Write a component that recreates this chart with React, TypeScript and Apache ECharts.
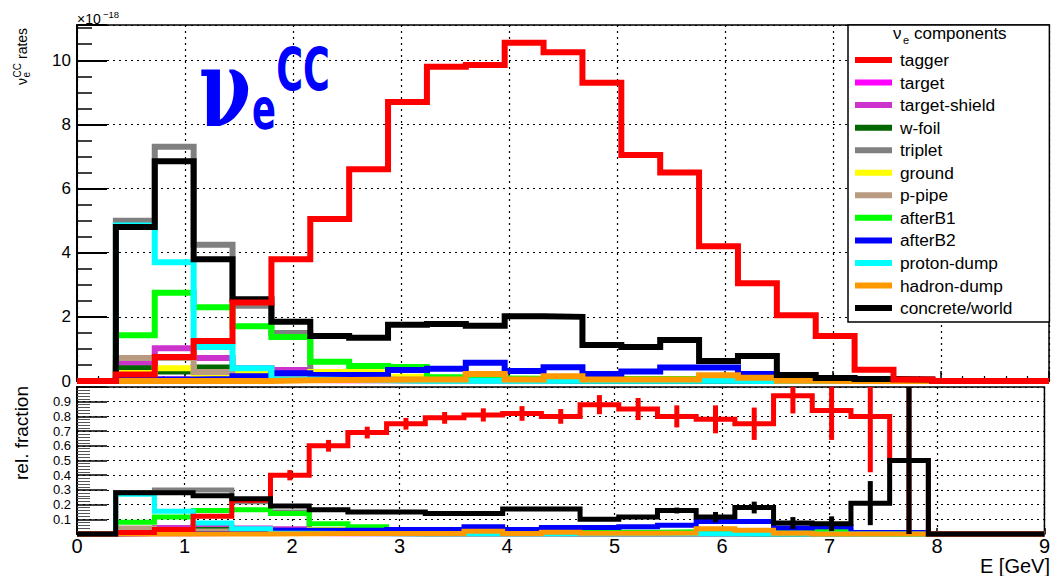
import React, { useEffect, useRef } from 'react';
import * as echarts from 'echarts';

const FONT = '"Liberation Sans", Arial, Helvetica, sans-serif';

// 25 bins of 0.36 GeV from 0 to 9 GeV
const binEdges = [0, 0.36, 0.72, 1.08, 1.44, 1.8, 2.16, 2.52, 2.88, 3.24, 3.6, 3.96, 4.32, 4.68, 5.04, 5.4, 5.76, 6.12, 6.48, 6.84, 7.2, 7.56, 7.92, 8.28, 8.64, 9];

// ---- upper panel: nu_e CC rates (x 1e-18) ----
const rateTagger = [0, 0.2, 0.75, 1.25, 2.45, 3.8, 5.05, 6.6, 8.7, 9.8, 9.85, 10.55, 10.25, 9.3, 7.05, 6.5, 4.2, 3.05, 2.05, 1.4, 0.35, 0.05, 0, 0, 0];
const rateTarget = [0, 0.05, 0.05, 0.05, 0.04, 0.03, 0.02, 0.02, 0.02, 0.02, 0.02, 0.02, 0.02, 0.02, 0.02, 0.02, 0.01, 0.01, 0, 0, 0, 0, 0, 0, 0];
const rateTargetShield = [0, 0.57, 1.02, 0.72, 0.4, 0.34, 0.1, 0.06, 0.04, 0.03, 0.03, 0.03, 0.02, 0.02, 0.02, 0.02, 0.01, 0.01, 0, 0, 0, 0, 0, 0, 0];
const rateWFoil = [0, 0.4, 0.3, 0.42, 0.1, 0.06, 0.04, 0.03, 0.02, 0.02, 0.02, 0.02, 0.01, 0.01, 0.01, 0.01, 0.01, 0, 0, 0, 0, 0, 0, 0, 0];
const rateTriplet = [0, 5.0, 7.3, 4.25, 2.35, 1.5, 0.04, 0.03, 0.02, 0.02, 0.02, 0.02, 0.02, 0.02, 0.02, 0.02, 0.02, 0.02, 0.01, 0.02, 0, 0, 0, 0, 0];
const rateGround = [0, 0.25, 0.4, 0.2, 0.28, 0.2, 0.28, 0.27, 0.13, 0.05, 0.05, 0.05, 0.08, 0.05, 0.04, 0.04, 0.04, 0.04, 0.02, 0.01, 0, 0, 0, 0, 0];
const ratePPipe = [0, 0.72, 0.72, 0.28, 0.08, 0.06, 0.05, 0.05, 0.04, 0.04, 0.03, 0.03, 0.03, 0.03, 0.03, 0.03, 0.02, 0.02, 0.01, 0.01, 0, 0, 0, 0, 0];
const rateAfterB1 = [0, 1.43, 2.75, 2.3, 1.71, 1.37, 0.6, 0.47, 0.44, 0.12, 0.08, 0.07, 0.07, 0.06, 0.06, 0.06, 0.06, 0.06, 0.02, 0.03, 0.01, 0, 0, 0, 0];
const rateAfterB2 = [0, 0.05, 0.05, 0.06, 0.15, 0.24, 0.19, 0.19, 0.34, 0.38, 0.57, 0.31, 0.43, 0.22, 0.3, 0.42, 0.42, 0.22, 0.03, 0.01, 0, 0, 0, 0, 0];
const rateProtonDump = [0, 4.85, 3.7, 1.06, 0.4, 0.05, 0.03, 0.02, 0.01, 0.01, 0.01, 0.01, 0.01, 0.01, 0.01, 0.01, 0.01, 0, 0, 0, 0, 0, 0, 0, 0];
const rateHadronDump = [0, 0, 0, 0, 0, 0.02, 0.03, 0.04, 0.05, 0.05, 0.22, 0.05, 0.15, 0.05, 0.05, 0.05, 0.18, 0.1, 0.01, 0, 0, 0, 0, 0, 0];
const rateConcrete = [0, 4.8, 6.85, 3.8, 2.55, 1.85, 1.4, 1.35, 1.75, 1.78, 1.72, 2.02, 2.0, 1.12, 1.06, 1.28, 0.62, 0.78, 0.19, 0.09, 0.06, 0.05, 0, 0, 0];

// ---- lower panel: relative fraction ----
const fracTagger = [0, 0.01, 0.03, 0.12, 0.23, 0.4, 0.6, 0.69, 0.75, 0.79, 0.81, 0.82, 0.8, 0.88, 0.85, 0.8, 0.78, 0.75, 0.94, 0.84, 0.8, 0.5, 0, 0, 0];
const errTagger = [0, 0, 0, 0.01, 0.02, 0.035, 0.04, 0.04, 0.04, 0.04, 0.045, 0.05, 0.05, 0.065, 0.075, 0.075, 0.095, 0.11, 0.12, 0.2, 0.38, 0.5, 0, 0, 0];
const fracTarget = [0, 0.002, 0.002, 0.004, 0.005, 0.003, 0.002, 0.002, 0.002, 0.002, 0.002, 0.002, 0.002, 0.002, 0.002, 0.002, 0.002, 0.002, 0, 0, 0, 0, 0, 0, 0];
const fracTargetShield = [0, 0.03, 0.045, 0.055, 0.04, 0.035, 0.01, 0.006, 0.004, 0.003, 0.003, 0.003, 0.002, 0.002, 0.002, 0.002, 0.002, 0.002, 0, 0, 0, 0, 0, 0, 0];
const fracWFoil = [0, 0.022, 0.013, 0.03, 0.01, 0.006, 0.004, 0.003, 0.002, 0.002, 0.002, 0.002, 0.001, 0.001, 0.001, 0.001, 0.001, 0, 0, 0, 0, 0, 0, 0, 0];
const fracTriplet = [0, 0.28, 0.3, 0.3, 0.22, 0.15, 0.004, 0.003, 0.002, 0.002, 0.002, 0.002, 0.002, 0.002, 0.002, 0.002, 0.003, 0.003, 0.004, 0.025, 0, 0, 0, 0, 0];
const fracGround = [0, 0.014, 0.017, 0.014, 0.03, 0.021, 0.03, 0.03, 0.012, 0.004, 0.004, 0.004, 0.006, 0.004, 0.004, 0.004, 0.004, 0.004, 0.002, 0.001, 0, 0, 0, 0, 0];
const fracPPipe = [0, 0.04, 0.03, 0.02, 0.008, 0.006, 0.005, 0.005, 0.004, 0.004, 0.003, 0.003, 0.003, 0.003, 0.003, 0.003, 0.003, 0.003, 0.002, 0.002, 0, 0, 0, 0, 0];
const fracAfterB1 = [0, 0.08, 0.115, 0.16, 0.165, 0.14, 0.07, 0.05, 0.03, 0.01, 0.008, 0.012, 0.012, 0.012, 0.012, 0.015, 0.015, 0.015, 0.008, 0.015, 0.005, 0, 0, 0, 0];
const fracAfterB2 = [0, 0.003, 0.003, 0.005, 0.015, 0.025, 0.025, 0.025, 0.03, 0.03, 0.05, 0.03, 0.045, 0.045, 0.05, 0.06, 0.085, 0.085, 0.04, 0.05, 0.01, 0.01, 0, 0, 0];
const fracProtonDump = [0, 0.27, 0.155, 0.075, 0.035, 0.005, 0.003, 0.002, 0.001, 0.001, 0.001, 0.001, 0.001, 0.001, 0.001, 0.001, 0.001, 0, 0, 0, 0, 0, 0, 0, 0];
const fracHadronDump = [0, 0, 0, 0, 0, 0.002, 0.003, 0.004, 0.004, 0.004, 0.018, 0.004, 0.012, 0.005, 0.005, 0.006, 0.035, 0.025, 0.005, 0, 0, 0, 0, 0, 0];
const fracConcrete = [0, 0.28, 0.28, 0.26, 0.24, 0.19, 0.165, 0.15, 0.15, 0.14, 0.14, 0.17, 0.17, 0.1, 0.115, 0.16, 0.115, 0.18, 0.075, 0.07, 0.21, 0.5, 0, 0, 0];
const errConcrete = [0, 0.008, 0.008, 0.01, 0.01, 0.01, 0.01, 0.01, 0.01, 0.01, 0.01, 0.01, 0.01, 0.012, 0.014, 0.02, 0.035, 0.04, 0.04, 0.05, 0.15, 0.5, 0, 0, 0];

const componentNames = ['tagger', 'target', 'target-shield', 'w-foil', 'triplet', 'ground', 'p-pipe', 'afterB1', 'afterB2', 'proton-dump', 'hadron-dump', 'concrete/world'];
const componentColors = ['#ff0000', '#ff00ff', '#cc33cc', '#006600', '#808080', '#ffff00', '#b99b82', '#00ff00', '#0000ff', '#00ffff', '#ff9900', '#000000'];
const componentRates = [rateTagger, rateTarget, rateTargetShield, rateWFoil, rateTriplet, rateGround, ratePPipe, rateAfterB1, rateAfterB2, rateProtonDump, rateHadronDump, rateConcrete];
const componentFracs = [fracTagger, fracTarget, fracTargetShield, fracWFoil, fracTriplet, fracGround, fracPPipe, fracAfterB1, fracAfterB2, fracProtonDump, fracHadronDump, fracConcrete];

const binCenters = binEdges.slice(0, -1).map((e, i) => (e + binEdges[i + 1]) / 2);

function stepData(vals: number[]) {
  return binEdges.map((e, i) => [e, vals[Math.min(i, vals.length - 1)]]);
}

function lineSeries(idx: number, grid: number, vals: number[], width: number, z: number) {
  const color = componentColors[idx];
  return {
    type: 'line',
    name: componentNames[idx],
    xAxisIndex: grid,
    yAxisIndex: grid,
    step: 'end',
    data: stepData(vals),
    showSymbol: false,
    symbol: 'none',
    clip: false,
    silent: true,
    color,
    itemStyle: { color },
    lineStyle: { color, width, cap: 'butt', join: 'miter' },
    emphasis: { disabled: true },
    z,
  };
}

function errSeries(name: string, color: string, frac: number[], err: number[], z: number) {
  return {
    type: 'custom',
    name: name + ' errors',
    xAxisIndex: 1,
    yAxisIndex: 1,
    z,
    clip: true,
    silent: true,
    data: binCenters.map((c, i) => [c, frac[i], err[i]]),
    encode: { x: 0, y: 1 },
    renderItem: (params: any, api: any) => {
      const x = api.value(0);
      const v = api.value(1);
      const e = api.value(2);
      if (!(e > 0)) return { type: 'group', children: [] };
      const a = api.coord([x, v - e]);
      const b = api.coord([x, v + e]);
      return {
        type: 'line',
        shape: { x1: a[0], y1: a[1], x2: b[0], y2: b[1] },
        style: { stroke: color, lineWidth: 5 },
      };
    },
  };
}

function txt(x: number, y: number, text: string, fontSize: number, extra: any = {}, elExtra: any = {}) {
  return {
    type: 'text',
    x,
    y,
    z: 50,
    silent: true,
    ...elExtra,
    style: {
      text,
      x: 0,
      y: 0,
      fontSize,
      fontFamily: FONT,
      fill: '#000',
      textAlign: 'left',
      align: 'left',
      textVerticalAlign: 'middle',
      verticalAlign: 'middle',
      ...extra,
    },
  };
}

export default function App() {
  const ref = useRef<HTMLDivElement>(null);
  useEffect(() => {
    if (!ref.current) return;
    const chart = echarts.init(ref.current, null, { renderer: 'svg' });

    const series: any[] = [];
    // upper panel: others, then concrete/world, then tagger on top
    const topOrder = [1, 2, 3, 4, 5, 6, 7, 8, 9, 10];
    topOrder.forEach((i) => series.push(lineSeries(i, 0, componentRates[i], 6, 2)));
    series.push(lineSeries(11, 0, componentRates[11], 6, 3));
    series.push(lineSeries(0, 0, componentRates[0], 6, 4));
    // lower panel: others, then tagger, then concrete/world on top
    topOrder.forEach((i) => series.push(lineSeries(i, 1, componentFracs[i], 5, 2)));
    series.push(lineSeries(0, 1, componentFracs[0], 5, 3));
    series.push(errSeries('tagger', componentColors[0], fracTagger, errTagger, 3));
    series.push(lineSeries(11, 1, componentFracs[11], 5, 4));
    series.push(errSeries('concrete/world', componentColors[11], fracConcrete, errConcrete, 4));

    const axisCommon = {
      type: 'value',
      axisLine: { show: true, onZero: false, lineStyle: { color: '#000', width: 2 } },
      splitLine: { show: true, lineStyle: { color: '#000', width: 1.2, type: [2, 4] } },
    };

    const option: any = {
      animation: false,
      backgroundColor: '#fff',
      grid: [
        { left: 77, top: 25, width: 972, height: 356, show: true, borderColor: '#000', borderWidth: 1.5, backgroundColor: 'transparent' },
        { left: 77, top: 387, width: 972, height: 147, show: true, borderColor: '#000', borderWidth: 1.5, backgroundColor: 'transparent' },
      ],
      xAxis: [
        {
          ...axisCommon,
          gridIndex: 0,
          min: 0,
          max: 9,
          interval: 1,
          axisTick: { show: true, inside: true, length: 10, lineStyle: { color: '#000', width: 1.5 } },
          minorTick: { show: true, splitNumber: 5, length: 5, lineStyle: { color: '#000', width: 1.2 } },
          axisLabel: { show: false },
        },
        {
          ...axisCommon,
          gridIndex: 1,
          min: 0,
          max: 9,
          interval: 1,
          axisTick: { show: true, inside: true, length: 6, lineStyle: { color: '#000', width: 1.5 } },
          minorTick: { show: true, splitNumber: 5, length: 3, lineStyle: { color: '#000', width: 1.2 } },
          axisLabel: { show: true, fontSize: 20, fontFamily: FONT, color: '#000', margin: 2 },
        },
      ],
      yAxis: [
        {
          ...axisCommon,
          gridIndex: 0,
          min: 0,
          max: 11.1,
          interval: 2,
          axisTick: { show: true, inside: true, length: 30, lineStyle: { color: '#000', width: 2 } },
          minorTick: { show: true, splitNumber: 4, length: 15, lineStyle: { color: '#000', width: 1.5 } },
          axisLabel: {
            fontSize: 17,
            fontFamily: FONT,
            color: '#000',
            margin: 6,
            showMaxLabel: false,
            formatter: (v: number) => (Math.abs(v / 2 - Math.round(v / 2)) < 1e-6 ? String(Math.round(v)) : ''),
          },
        },
        {
          ...axisCommon,
          gridIndex: 1,
          min: 0,
          max: 1,
          interval: 0.1,
          axisTick: { show: true, inside: true, length: 30, lineStyle: { color: '#000', width: 1.5 } },
          minorTick: { show: true, splitNumber: 5, length: 13, lineStyle: { color: '#555', width: 1 } },
          axisLabel: {
            fontSize: 13,
            lineHeight: 13,
            fontFamily: FONT,
            color: '#000',
            margin: 6,
            formatter: (v: number) => (v > 0.05 && v < 0.95 ? v.toFixed(1) : ''),
          },
        },
      ],
      legend: {
        data: componentNames,
        orient: 'vertical',
        left: 848,
        top: 25,
        icon: 'rect',
        itemWidth: 37,
        itemHeight: 6,
        itemGap: 4.55,
        padding: [26, 37, 5, 7],
        backgroundColor: '#fff',
        borderColor: '#000',
        borderWidth: 1.5,
        borderRadius: 0,
        selectedMode: false,
        z: 10,
        itemStyle: { borderWidth: 0 },
        textStyle: { fontFamily: FONT, fontSize: 17.3, color: '#000', lineHeight: 18, padding: [0, 0, 0, 3] },
      },
      graphic: [
        // exponent label
        txt(77, 19.2, '×10', 14),
        txt(103, 14, '−18', 9.5),
        // upper y title (rotated)
        {
          type: 'group',
          x: 27,
          y: 85,
          rotation: Math.PI / 2,
          z: 50,
          children: [
            txt(0, -4.8, 'ν', 14),
            txt(7.5, -0.5, 'e', 10),
            txt(7.5, -9.5, 'CC', 10),
            txt(26, -4.8, 'rates', 14),
          ],
        },
        // lower y title
        txt(21, 433, 'rel. fraction', 19, { textAlign: 'center', align: 'center' }, { rotation: Math.PI / 2 }),
        // x title
        txt(1050, 566, 'E [GeV]', 20, { textAlign: 'right', align: 'right' }),
        // big blue label
        txt(225, 88, 'ν', 108, { fontFamily: '"DejaVu Serif"', fontWeight: 'bold', fill: '#0000ff', textAlign: 'center', align: 'center' }, { scaleX: 0.7 }),
        txt(264, 109, 'e', 57, { fontFamily: '"DejaVu Sans"', fontWeight: 'bold', fill: '#0000ff', textAlign: 'center', align: 'center' }, { scaleX: 0.62 }),
        txt(303, 70, 'CC', 59, { fontFamily: '"DejaVu Sans"', fontWeight: 'bold', fill: '#0000ff', textAlign: 'center', align: 'center' }, { scaleX: 0.62 }),
        // legend header
        txt(893, 33.6, 'ν', 17),
        txt(903, 40.2, 'e', 11),
        txt(914, 33.6, 'components', 17),
      ],
      series,
    };

    chart.setOption(option);
    return () => chart.dispose();
  }, []);

  return (
    <div
      ref={ref}
      style={{ position: 'fixed', left: 0, top: 0, width: 1053, height: 576, background: '#fff' }}
    />
  );
}
